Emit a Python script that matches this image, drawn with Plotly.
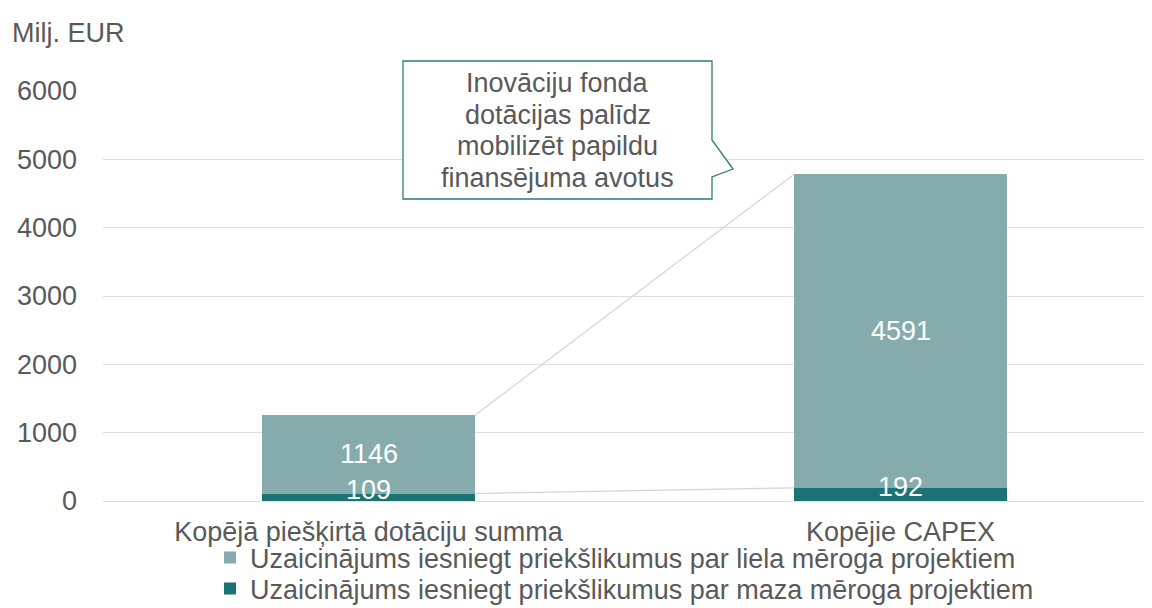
import plotly.graph_objects as go

categories = ["Kopējā piešķirtā dotāciju summa", "Kopējie CAPEX"]
small_scale = [109, 192]
large_scale = [1146, 4591]
series_names = [
    "Uzaicinājums iesniegt priekšlikumus par maza mēroga projektiem",
    "Uzaicinājums iesniegt priekšlikumus par liela mēroga projektiem",
]
y_ticks = [0, 1000, 2000, 3000, 4000, 5000, 6000]
callout_lines = ["Inovāciju fonda", "dotācijas palīdz", "mobilizēt papildu", "finansējuma avotus"]

DARK = "#1B7473"
LIGHT = "#86ABAD"
GRAY = "#595959"
FONT = "Liberation Sans, Arial, sans-serif"
FS = 27

# page places the figure at (8, 8) inside the window
OX, OY = 8, 8
W, H = 1152 - OX, 608 - OY
PLOT_L, PLOT_T, PLOT_B, PLOT_R = 103, 91, 501, 1152   # window pixels
L, T = PLOT_L - OX, PLOT_T - OY
B = H - (PLOT_B - OY)
R = W - (PLOT_R - OX)
BAR_W = 0.4
xpos = list(range(len(categories)))

pw = W - L - R
ph = H - T - B
def px(xp):  # window pixel -> paper
    return (xp - PLOT_L) / pw
def py(yp):
    return (PLOT_B - yp) / ph

cat_px = [368.5, 900.5]
unit = cat_px[1] - cat_px[0]

fig = go.Figure()
fig.add_trace(go.Bar(x=xpos, y=small_scale, name=series_names[0], marker_color=DARK,
                     width=BAR_W, marker_line_width=0, legend="legend2"))
fig.add_trace(go.Bar(x=xpos, y=large_scale, name=series_names[1], marker_color=LIGHT,
                     width=BAR_W, marker_line_width=0, legend="legend"))

totals = [a + b for a, b in zip(small_scale, large_scale)]

for i in xpos:
    fig.add_annotation(x=i, y=small_scale[i] / 2, text=str(small_scale[i]), showarrow=False,
                       yshift=7, font=dict(color="white", size=FS, family=FONT), xref="x", yref="y")
    fig.add_annotation(x=i, y=small_scale[i] + large_scale[i] / 2, text=str(large_scale[i]),
                       showarrow=False, font=dict(color="white", size=FS, family=FONT), xref="x", yref="y")

fig.add_shape(type="line", x0=xpos[0] + BAR_W / 2, y0=totals[0], x1=xpos[1] - BAR_W / 2, y1=totals[1],
              xref="x", yref="y", line=dict(color="#D4D4D4", width=1.2))
fig.add_shape(type="line", x0=xpos[0] + BAR_W / 2, y0=small_scale[0], x1=xpos[1] - BAR_W / 2, y1=small_scale[1],
              xref="x", yref="y", line=dict(color="#D4D4D4", width=1.2))

pts = [(403, 61), (712, 61), (712, 140), (733, 169), (712, 177), (712, 199), (403, 199)]
path = "M " + " L ".join(f"{px(a):.5f},{py(b):.5f}" for a, b in pts) + " Z"
fig.add_shape(type="path", path=path, xref="paper", yref="paper",
              line=dict(color="#2E7A7C", width=1.3), fillcolor="white", layer="above")
line_y = [83, 114.5, 146, 177.5]
for txt, yy in zip(callout_lines, line_y):
    fig.add_annotation(x=px(557.5), y=py(yy), xref="paper", yref="paper", text=txt,
                       showarrow=False, align="center", yanchor="middle",
                       font=dict(color=GRAY, size=FS, family=FONT))

fig.add_annotation(x=px(10), y=py(33), xref="paper", yref="paper", text="Milj. EUR",
                   showarrow=False, xanchor="left", yanchor="middle",
                   font=dict(color=GRAY, size=FS, family=FONT))

legend_common = dict(orientation="v", xanchor="left", yanchor="middle",
                     font=dict(size=FS, color=GRAY, family=FONT),
                     bgcolor="rgba(0,0,0,0)", itemclick=False, itemdoubleclick=False)

fig.update_layout(
    width=W, height=H,
    margin=dict(l=L, r=R, t=T, b=B, autoexpand=False),
    barmode="stack",
    plot_bgcolor="white", paper_bgcolor="white",
    font=dict(family=FONT, color=GRAY, size=FS),
    showlegend=True,
    legend=dict(x=px(210), y=py(558), **legend_common),
    legend2=dict(x=px(210), y=py(589), **legend_common),
    xaxis=dict(tickmode="array", tickvals=xpos, ticktext=categories,
               range=[(PLOT_L - cat_px[0]) / unit, (PLOT_R - cat_px[0]) / unit],
               showgrid=False, zeroline=False, showline=False, ticks="",
               automargin=False, ticklabelstandoff=12,
               tickfont=dict(size=FS, color=GRAY, family=FONT)),
    yaxis=dict(range=[0, 6000], tickvals=y_ticks, showgrid=True, gridcolor="#E0E0E0",
               gridwidth=1, zeroline=True, zerolinecolor="#E0E0E0", zerolinewidth=1,
               showline=False, ticks="", ticklabelstandoff=25, automargin=False,
               tickfont=dict(size=FS, color=GRAY, family=FONT)),
)

fig.write_html("out.html")
